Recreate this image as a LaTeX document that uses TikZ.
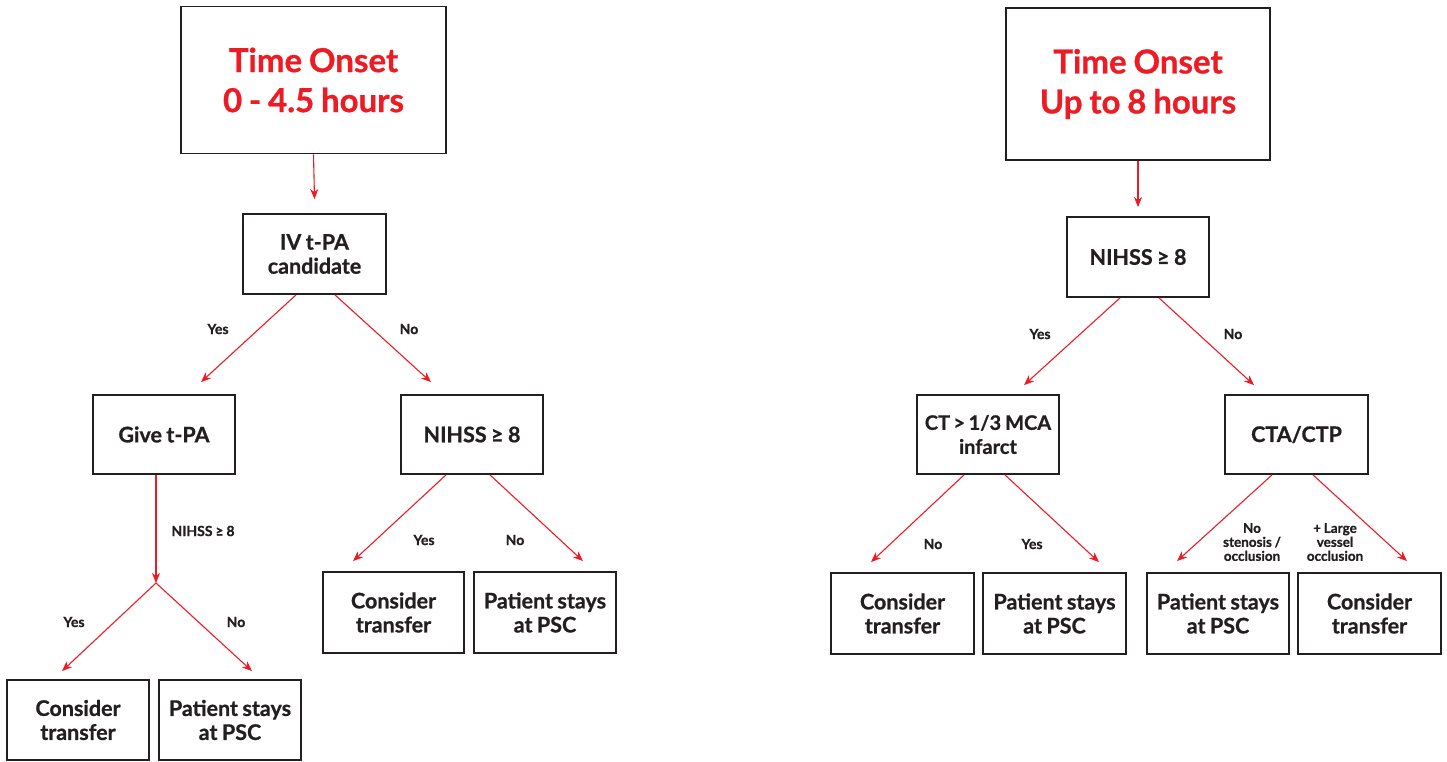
\documentclass[tikz,border=0pt]{standalone}
\usepackage{fontspec}
\setmainfont{Lato}[BoldFeatures={FakeBold=0.8}, WordSpace=0.85]
\usetikzlibrary{arrows.meta}
\definecolor{fred}{HTML}{ED1C24}
\definecolor{ftxt}{HTML}{231F20}
\tikzset{
  box/.style={draw=ftxt, line width=1.8pt, minimum width=142pt, minimum height=80pt, inner sep=0pt,
    align=center, text=ftxt, font=\fontsize{21.5}{24}\selectfont\bfseries},
  titlebox/.style={box, minimum width=265pt, text=fred, font=\fontsize{33}{40}\selectfont\bfseries},
  arr/.style={draw=fred, line width=1.1pt, -{Stealth[length=10pt,width=8pt,inset=3pt]}},
  lbl/.style={text=ftxt, font=\fontsize{14}{14}\selectfont\bfseries, inner sep=0pt},
  slbl/.style={text=ftxt, font=\fontsize{13.5}{14}\selectfont\bfseries, inner sep=0pt, align=center},
}
\begin{document}
\begin{tikzpicture}[x=1pt,y=-1pt]
\useasboundingbox (0,0) rectangle (1447,761);
% ---------- left tree ----------
\node[titlebox, minimum height=147pt] (t1) at (313.5,80) {Time Onset\\0 - 4.5 hours};
\node[box, minimum width=143pt] (a) at (314.5,254) {IV t-PA\\candidate};
\node[box, minimum height=79pt] (b) at (164,434.5) {Give t-PA};
\node[box, minimum height=79pt] (c) at (472,434.5) {NIHSS ≥ 8};
\coordinate (sp) at (156,583);
\node[box] (d1) at (78,720) {Consider\\transfer};
\node[box] (d2) at (230,720) {Patient stays\\at PSC};
\node[box, minimum width=141pt, minimum height=81pt] (e1) at (393.5,612.5) {Consider\\transfer};
\node[box, minimum height=81pt] (e2) at (545,612.5) {Patient stays\\at PSC};

\draw[arr] (t1.south) -- ([shift={(0,-14)}]a.north);
\draw[arr] ([shift={(-18.5,0)}]a.south) -- ([shift={(37,-12)}]b.north);
\draw[arr] ([shift={(20.5,0)}]a.south) -- ([shift={(-41,-12)}]c.north);
\draw[arr] ([shift={(-8,0)}]b.south) -- (sp);
\draw[arr] (sp) -- ([shift={(-16,-8)}]d1.north);
\draw[arr] (sp) -- ([shift={(22,-8)}]d2.north);
\draw[arr] ([shift={(-26,0)}]c.south) -- ([shift={(-40.5,-10)}]e1.north);
\draw[arr] ([shift={(18,0)}]c.south) -- ([shift={(38,-10)}]e2.north);

\node[lbl] (la1) at (218,329) {Yes};
\node[lbl] (la2) at (409,329) {No};
\node[lbl] (lb) at (203,531) {NIHSS ≥ 8};
\node[lbl] (ld1) at (74,622) {Yes};
\node[lbl] (ld2) at (236,622) {No};
\node[lbl] (le1) at (424,540) {Yes};
\node[lbl] (le2) at (515,540) {No};

% ---------- right tree ----------
\node[titlebox, minimum width=264pt, minimum height=152pt] (t2) at (1138,84) {Time Onset\\Up to 8 hours};
\node[box] (f) at (1138,257) {NIHSS ≥ 8};
\node[box, minimum height=79pt, font=\fontsize{20}{24}\selectfont\bfseries] (g) at (988,434.5) {CT\hspace{3.5pt}>\hspace{3.5pt}1/3\hspace{4pt}MCA\\infarct};
\node[box, minimum width=143pt, minimum height=79pt] (h) at (1296.5,434.5) {CTA/CTP};
\node[box, minimum width=143pt, minimum height=81pt] (i1) at (902.5,613.5) {Consider\\transfer};
\node[box, minimum width=143pt, minimum height=81pt] (i2) at (1054.5,613.5) {Patient stays\\at PSC};
\node[box, minimum height=81pt] (j1) at (1218,613.5) {Patient stays\\at PSC};
\node[box, minimum width=143pt, minimum height=81pt] (j2) at (1369.5,613.5) {Consider\\transfer};

\draw[arr] (t2.south) -- ([shift={(0,-9)}]f.north);
\draw[arr] ([shift={(-18,0)}]f.south) -- ([shift={(36,-9)}]g.north);
\draw[arr] ([shift={(21,0)}]f.south) -- ([shift={(-42.5,-9)}]h.north);
\draw[arr] ([shift={(-24,0)}]g.south) -- ([shift={(-31.5,-10)}]i1.north);
\draw[arr] ([shift={(17,0)}]g.south) -- ([shift={(44.5,-10)}]i2.north);
\draw[arr] ([shift={(-24.5,0)}]h.south) -- ([shift={(-41,-11)}]j1.north);
\draw[arr] ([shift={(16.5,0)}]h.south) -- ([shift={(37.5,-11)}]j2.north);

\node[lbl] (lf1) at (1040,334) {Yes};
\node[lbl] (lf2) at (1233,334) {No};
\node[lbl] (lg1) at (933,544) {No};
\node[lbl] (lg2) at (1032,544) {Yes};
\node[slbl] (lh1) at (1252,542) {No\\stenosis /\\occlusion};
\node[slbl] (lh2) at (1335,542) {+ Large\\vessel\\occlusion};
\end{tikzpicture}
\end{document}
